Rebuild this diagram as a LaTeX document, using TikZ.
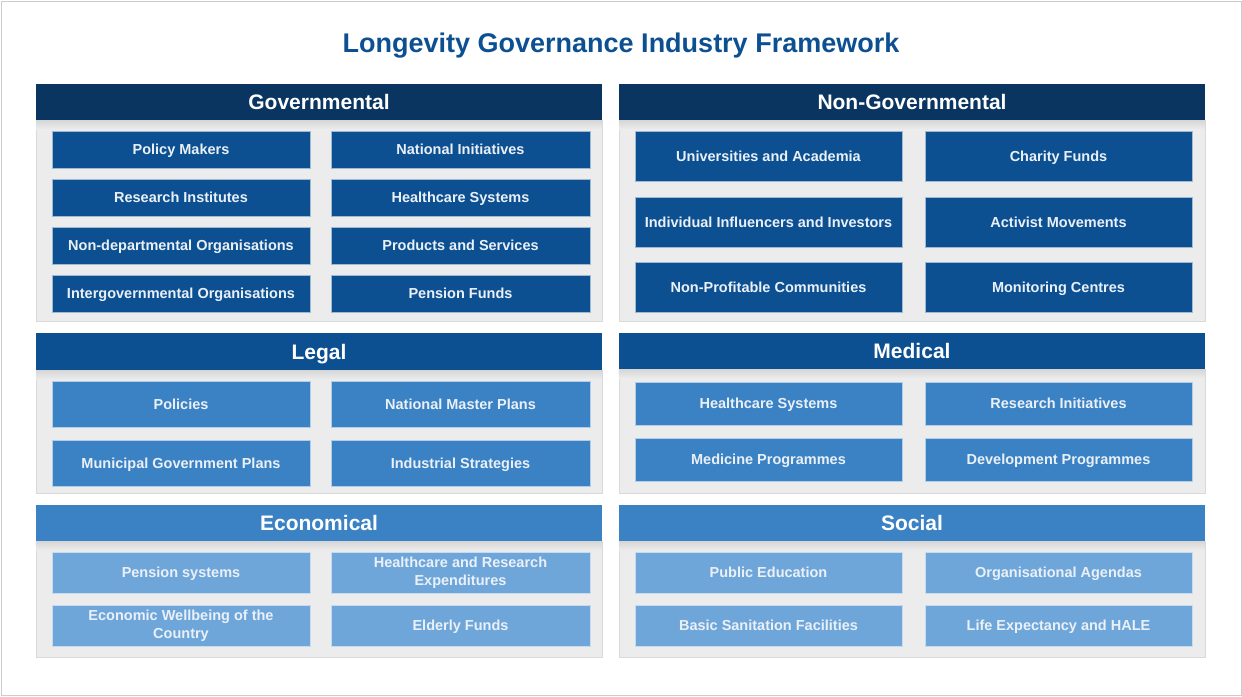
\documentclass[tikz,border=0pt]{standalone}
\usepackage{fontspec}
\setmainfont{Liberation Sans}
\usepackage{tikz}

\definecolor{navy}{RGB}{10,53,96}
\definecolor{midblue}{RGB}{13,80,146}
\definecolor{skyblue}{RGB}{59,130,196}
\definecolor{paleblue}{RGB}{111,166,218}
\definecolor{panelgray}{RGB}{236,236,236}
\definecolor{boxtext}{RGB}{234,240,247}

\tikzset{
  header/.style={minimum height=36pt, inner sep=0pt, text=white,
    text height=15pt, text depth=0pt,
    font=\fontsize{21}{25}\selectfont\bfseries},
  panel/.style={fill=panelgray, draw=black!15, line width=0.8pt, inner sep=0pt},
  item/.style={minimum height=37pt, inner sep=0pt, text=boxtext, align=center,
    draw=white!60!#1, line width=0.6pt, fill=#1,
    text height=10.4pt, text depth=0pt,
    font=\fontsize{14.5}{17.5}\selectfont\bfseries},
  twoline/.style={text height=, text depth=},
}

\begin{document}
\begin{tikzpicture}[x=1pt, y=-1pt]
  \useasboundingbox (0,0) rectangle (1242,696);
  \draw[black!20, line width=1pt] (1,1) rectangle (1241,695);
  \node[text=midblue, text height=19.4pt, text depth=0pt, inner sep=0pt,
    font=\fontsize{27}{32}\selectfont\bfseries] (title) at (621,43)
    {Longevity Governance Industry Framework};

  % Governmental
  \node[panel, minimum width=566pt, minimum height=201pt] (govpanel) at (319,220.5) {};
  \node[header, fill=navy, minimum width=566pt] (gov) at (319,102) {Governmental};
  \shade[top color=black!16, bottom color=panelgray] (gov.south west) rectangle ++(566,9);
  \node[item=midblue, minimum width=258pt] (policymakers) at (181,149.5) {Policy Makers};
  \node[item=midblue, minimum width=259pt] (natinit) at (460.5,149.5) {National Initiatives};
  \node[item=midblue, minimum width=258pt] (resinst) at (181,197.5) {Research Institutes};
  \node[item=midblue, minimum width=259pt] (hcsys) at (460.5,197.5) {Healthcare Systems};
  \node[item=midblue, minimum width=258pt] (nondep) at (181,245.5) {Non-departmental Organisations};
  \node[item=midblue, minimum width=259pt] (products) at (460.5,245.5) {Products and Services};
  \node[item=midblue, minimum width=258pt] (intergov) at (181,293.5) {Intergovernmental Organisations};
  \node[item=midblue, minimum width=259pt] (pension) at (460.5,293.5) {Pension Funds};

  % Non-Governmental
  \node[panel, minimum width=586pt, minimum height=201pt] (ngpanel) at (912,220.5) {};
  \node[header, fill=navy, minimum width=586pt] (nongov) at (912,102) {Non-Governmental};
  \shade[top color=black!16, bottom color=panelgray] (nongov.south west) rectangle ++(586,9);
  \node[item=midblue, minimum width=267pt, minimum height=50pt] (univ) at (768.5,156.5) {Universities and Academia};
  \node[item=midblue, minimum width=267pt, minimum height=50pt] (charity) at (1058.5,156.5) {Charity Funds};
  \node[item=midblue, minimum width=267pt, minimum height=50pt] (influencers) at (768.5,222) {Individual Influencers and Investors};
  \node[item=midblue, minimum width=267pt, minimum height=50pt] (activist) at (1058.5,222) {Activist Movements};
  \node[item=midblue, minimum width=267pt, minimum height=50pt] (nonprofit) at (768.5,287) {Non-Profitable Communities};
  \node[item=midblue, minimum width=267pt, minimum height=50pt] (monitoring) at (1058.5,287) {Monitoring Centres};

  % Legal
  \node[panel, minimum width=566pt, minimum height=123pt] (legpanel) at (319,431.5) {};
  \node[header, fill=midblue, minimum width=566pt, minimum height=37pt] (legal) at (319,351.5) {Legal};
  \shade[top color=black!16, bottom color=panelgray] (legal.south west) rectangle ++(566,9);
  \node[item=skyblue, minimum width=258pt, minimum height=46pt] (policies) at (181,404) {Policies};
  \node[item=skyblue, minimum width=259pt, minimum height=46pt] (masterplans) at (460.5,404) {National Master Plans};
  \node[item=skyblue, minimum width=258pt, minimum height=46pt] (municipal) at (181,463) {Municipal Government Plans};
  \node[item=skyblue, minimum width=259pt, minimum height=46pt] (industrial) at (460.5,463) {Industrial Strategies};

  % Medical
  \node[panel, minimum width=586pt, minimum height=124pt] (medpanel) at (912,431) {};
  \node[header, fill=midblue, minimum width=586pt] (medical) at (912,351) {Medical};
  \shade[top color=black!16, bottom color=panelgray] (medical.south west) rectangle ++(586,9);
  \node[item=skyblue, minimum width=267pt, minimum height=43pt] (medhc) at (768.5,403.5) {Healthcare Systems};
  \node[item=skyblue, minimum width=267pt, minimum height=43pt] (resinit) at (1058.5,403.5) {Research Initiatives};
  \node[item=skyblue, minimum width=267pt, minimum height=43pt] (medicine) at (768.5,459.5) {Medicine Programmes};
  \node[item=skyblue, minimum width=267pt, minimum height=43pt] (development) at (1058.5,459.5) {Development Programmes};

  % Economical
  \node[panel, minimum width=566pt, minimum height=116pt] (ecopanel) at (319,599) {};
  \node[header, fill=skyblue, minimum width=566pt] (economical) at (319,523) {Economical};
  \shade[top color=black!16, bottom color=panelgray] (economical.south west) rectangle ++(566,9);
  \node[item=paleblue, minimum width=258pt, minimum height=41pt] (pensionsys) at (181,572.5) {Pension systems};
  \node[item=paleblue, twoline, minimum width=259pt, minimum height=41pt] (expend) at (460.5,572.5) {Healthcare and Research\\Expenditures};
  \node[item=paleblue, twoline, minimum width=258pt, minimum height=41pt] (wellbeing) at (181,625.5) {Economic Wellbeing of the\\Country};
  \node[item=paleblue, minimum width=259pt, minimum height=41pt] (elderly) at (460.5,625.5) {Elderly Funds};

  % Social
  \node[panel, minimum width=586pt, minimum height=116pt] (socpanel) at (912,599) {};
  \node[header, fill=skyblue, minimum width=586pt] (social) at (912,523) {Social};
  \shade[top color=black!16, bottom color=panelgray] (social.south west) rectangle ++(586,9);
  \node[item=paleblue, minimum width=267pt, minimum height=41pt] (education) at (768.5,572.5) {Public Education};
  \node[item=paleblue, minimum width=267pt, minimum height=41pt] (agendas) at (1058.5,572.5) {Organisational Agendas};
  \node[item=paleblue, minimum width=267pt, minimum height=41pt] (sanitation) at (768.5,625.5) {Basic Sanitation Facilities};
  \node[item=paleblue, minimum width=267pt, minimum height=41pt] (lifeexp) at (1058.5,625.5) {Life Expectancy and HALE};
\end{tikzpicture}
\end{document}
